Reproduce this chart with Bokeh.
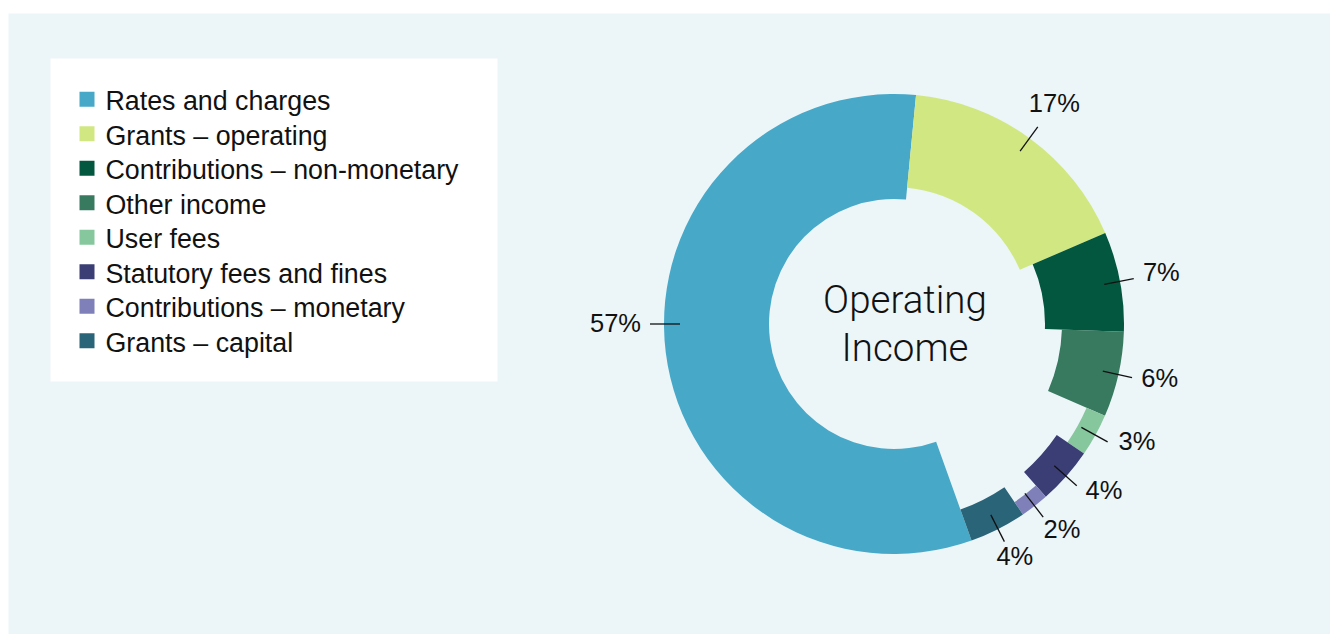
import math
from bokeh.plotting import figure
from bokeh.models import ColumnDataSource, Range1d
from bokeh.core.properties import value
from bokeh.embed import file_html
from bokeh.resources import INLINE

# ---------------- data ----------------
categories = [
    "Rates and charges",
    "Grants – operating",
    "Contributions – non-monetary",
    "Other income",
    "User fees",
    "Statutory fees and fines",
    "Contributions – monetary",
    "Grants – capital",
]
shares = [57, 17, 7, 6, 3, 4, 2, 4]            # percent of operating income
ring_depth = [105, 93, 79, 62, 20, 33, 15, 33]  # band thickness of each slice (px)
colors = ["#47A8C8", "#D1E882", "#02573E", "#387A5F",
          "#86C79D", "#3A3E75", "#7F80BA", "#2A6479"]
center_title = ["Operating", "Income"]

# ---------------- layout ----------------
W, H = 1330, 634
LEFT_GAP, TOP_GAP = 8, 13
PANEL = "#ECF5F8"
FONT = "Liberation Sans"
TXT = "#111111"

def sy(page_y):
    return H - page_y

CX, CY = 893.5, sy(323.5)
R_OUT = 230
START_CW = 160.3  # clockwise degrees from 12 o'clock where the first slice begins
# small hand nudges of the call-outs (degrees), as in the original artwork
LINE_ANGLE_SHIFT = {0: 7.1}
TEXT_ANGLE_SHIFT = {0: 7.1, 3: -1.0, 4: -3.0, 5: -3.0, 6: -1.5, 7: -0.5}

p = figure(width=W, height=H, output_backend="svg", toolbar_location=None,
           x_range=Range1d(LEFT_GAP, W), y_range=Range1d(0, H - TOP_GAP),
           x_axis_type=None, y_axis_type=None,
           min_border_left=LEFT_GAP, min_border_right=0, min_border_bottom=0,
           min_border_top=TOP_GAP)
p.grid.visible = False
p.background_fill_color = PANEL
p.border_fill_color = "white"
p.outline_line_color = None

# ---------------- donut ----------------
total = float(sum(shares))
t1, t2, mids = [], [], []
acc = 0.0
for s in shares:
    a = START_CW + 360.0 * acc / total
    b = START_CW + 360.0 * (acc + s) / total
    t1.append(a); t2.append(b); mids.append((a + b) / 2)
    acc += s

src = ColumnDataSource(dict(
    x=[CX] * len(shares), y=[CY] * len(shares),
    inner=[R_OUT - d for d in ring_depth], outer=[R_OUT] * len(shares),
    start=[math.radians(90 - a) for a in t1],
    end=[math.radians(90 - b) for b in t2],
    color=colors,
))
p.annular_wedge(x="x", y="y", inner_radius="inner", outer_radius="outer",
                start_angle="start", end_angle="end", direction="clock",
                fill_color="color", line_color=None, source=src)

# leader lines + percentage labels
R1, R2 = 214, 244
RL = R2 + 9
LFS = 25.5
x0, y0, x1, y1, lx, ly, lt = [], [], [], [], [], [], []
for i, (s, m) in enumerate(zip(shares, mids)):
    th = math.radians(m + LINE_ANGLE_SHIFT.get(i, 0.0))
    st, ct = math.sin(th), math.cos(th)
    x0.append(CX + R1 * st); y0.append(CY + R1 * ct)
    x1.append(CX + R2 * st); y1.append(CY + R2 * ct)
    tt = math.radians(m + TEXT_ANGLE_SHIFT.get(i, 0.0))
    st, ct = math.sin(tt), math.cos(tt)
    txt = f"{s}%"
    hw = (len(txt) - 1) * 0.556 * LFS / 2 + 0.889 * LFS / 2
    hh = 0.2 * LFS if ct > 0 else 0.05 * LFS
    r = RL + hw * abs(st) + hh * abs(ct)
    lx.append(CX + r * st); ly.append(CY + r * ct + 1); lt.append(txt)

p.segment(x0=x0, y0=y0, x1=x1, y1=y1, line_color="#111111", line_width=1.3)
p.text(x=lx, y=ly, text=lt, text_align="center", text_baseline="middle",
       text_font=value(FONT), text_font_size=f"{LFS}px", text_color=TXT)

# centre title
p.text(x=[CX + 11, CX + 11], y=[sy(299), sy(347)], text=center_title,
       text_align="center", text_baseline="middle",
       text_font=value("Roboto Light"), text_font_size="38.5px", text_color=TXT)

# ---------------- legend box ----------------
p.quad(left=50, right=497, top=sy(58), bottom=sy(381),
       fill_color="white", line_color=None)
n = len(categories)
ROW = 34.5
p.scatter(x=[86.5] * n, y=[sy(98.7 + ROW * i) for i in range(n)],
          marker="square", size=15, fill_color=colors, line_color=None)
p.text(x=[105] * n, y=[sy(100.5 + ROW * i) for i in range(n)], text=categories,
       text_align="left", text_baseline="middle",
       text_font=value(FONT), text_font_size="26.8px", text_color=TXT)

open("out.html", "w").write(file_html(p, INLINE))
